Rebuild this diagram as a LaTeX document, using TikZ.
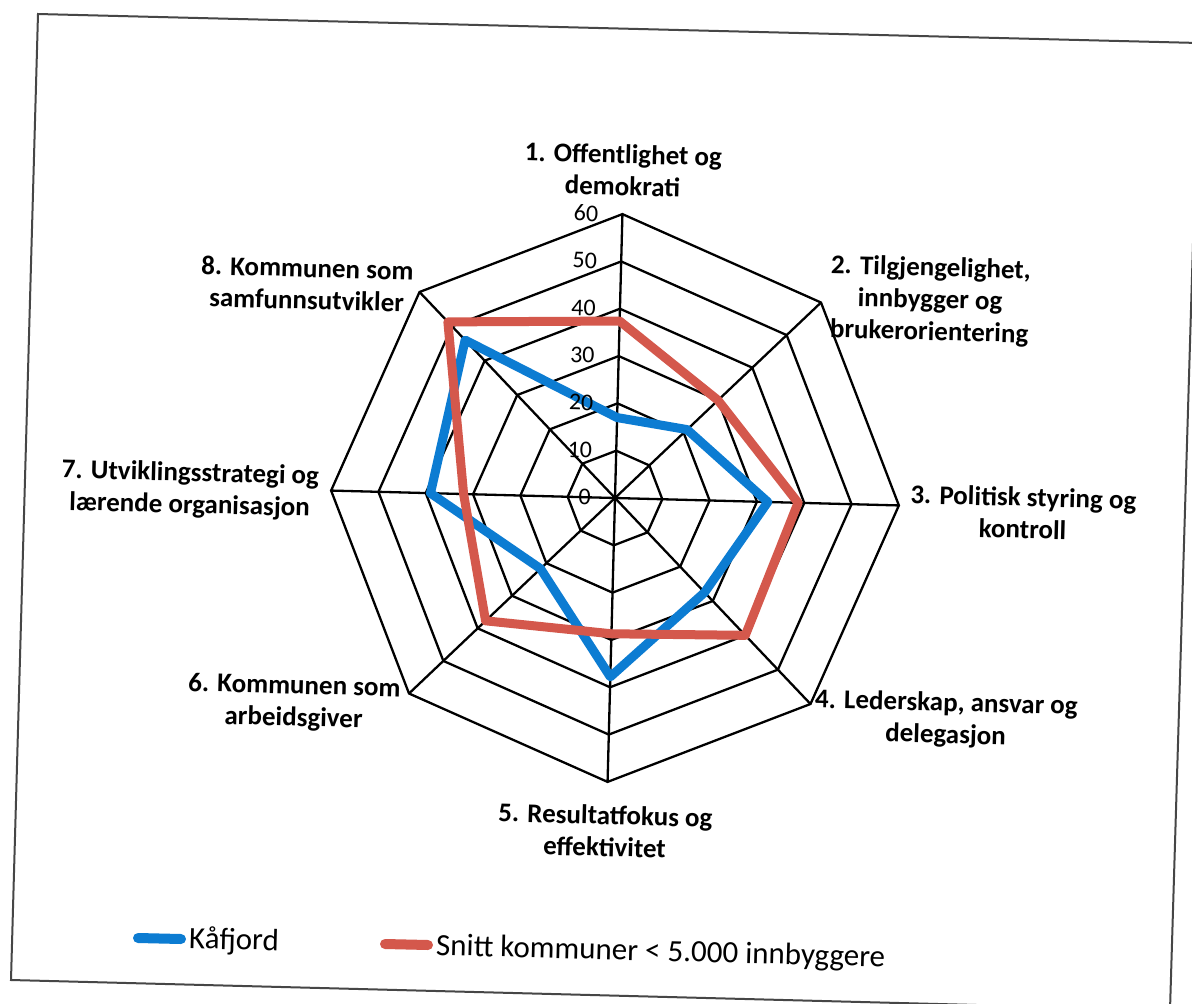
\documentclass[tikz,border=0pt]{standalone}
\usepackage{fontspec}
\setmainfont{Carlito}
\definecolor{kblue}{RGB}{12,124,210}
\definecolor{sred}{RGB}{212,88,76}
\definecolor{framegray}{RGB}{70,70,70}
\begin{document}
\begin{tikzpicture}[x=1pt,y=1pt,
  gridline/.style={black, line width=2.3pt},
  frameline/.style={framegray, line width=2pt},
  kaf/.style={draw=kblue, line width=9pt, line join=round},
  snitt/.style={draw=sred, line width=9pt, line join=round},
  axlabel/.style={font=\fontsize{27}{32}\selectfont\bfseries, align=center, rotate=-1.5, inner sep=0pt},
  tick/.style={font=\fontsize{24}{28}\selectfont, anchor=east, rotate=-1.5, inner sep=0pt},
  legtext/.style={font=\fontsize{31}{36}\selectfont, anchor=west, rotate=-1.5, inner sep=0pt},
  legline/.style={line width=10pt, line cap=round}]
\useasboundingbox (0,0) rectangle (1192,-1004);
\fill[white] (0,0) rectangle (1192,-1004);
% scanned page frame
\begin{scope}
  \clip (0,0) rectangle (1192,-1004);
  \coordinate (fTL) at (38,-14);
  \coordinate (fTR) at (1199,-43);
  \coordinate (fBR) at (1170,-1010);
  \coordinate (fBL) at (11,-980);
  \draw[frameline] (fTL) -- (fTR) -- (fBR) -- (fBL) -- cycle;
\end{scope}
% radar chart
\begin{scope}[shift={(615,-498)}, rotate=-1.5]
  \def\u{4.7333}
  \coordinate (c) at (0,0);
  \foreach \k in {0,...,7} {
    \coordinate (v\k) at ({90-45*\k}:{60*\u});
    \draw[gridline] (c) -- (v\k);
  }
  \foreach \r in {10,20,30,40,50,60} {
    \draw[gridline, line join=miter] (90:{\r*\u}) -- (45:{\r*\u}) -- (0:{\r*\u}) -- (-45:{\r*\u})
      -- (-90:{\r*\u}) -- (-135:{\r*\u}) -- (-180:{\r*\u}) -- (-225:{\r*\u}) -- cycle;
  }
  \foreach \v [count=\k from 0] in {17,21,32.3,27.5,37.8,21.7,39,46} {
    \coordinate (k\k) at ({90-45*\k}:{\v*\u});
  }
  \foreach \v [count=\k from 0] in {37.4,30,38.7,40,28.7,37.7,32,51.3} {
    \coordinate (s\k) at ({90-45*\k}:{\v*\u});
  }
  \draw[kaf] (k0) -- (k1) -- (k2) -- (k3) -- (k4) -- (k5) -- (k6) -- (k7) -- cycle;
  \draw[snitt] (s0) -- (s1) -- (s2) -- (s3) -- (s4) -- (s5) -- (s6) -- (s7) -- cycle;
  \foreach \r in {0,10,20,30,40,50,60} {
    \node[tick] (t\r) at (-24,{\r*\u}) {\r};
  }
\end{scope}
% axis labels
\node[axlabel] (a1) at (623,-170) {1. Offentlighet og\\demokrati};
\node[axlabel] (a2) at (930,-301) {2. Tilgjengelighet,\\innbygger og\\brukerorientering};
\node[axlabel] (a3) at (1023,-513) {3. Politisk styring og\\kontroll};
\node[axlabel] (a4) at (946,-720) {4. Lederskap, ansvar og\\delegasjon};
\node[axlabel] (a5) at (605,-831) {5. Resultatfokus og\\effektivitet};
\node[axlabel] (a6) at (294,-703) {6. Kommunen som\\arbeidsgiver};
\node[axlabel] (a7) at (190,-490) {7. Utviklingsstrategi og\\lærende organisasjon};
\node[axlabel] (a8) at (307,-284) {8. Kommunen som\\samfunnsutvikler};
% legend
\coordinate (lk1) at (138,-938);
\coordinate (lk2) at (181,-939);
\draw[legline, kblue] (lk1) -- (lk2);
\node[legtext] (lkt) at (189,-940) {Kåfjord};
\coordinate (ls1) at (385,-944);
\coordinate (ls2) at (428,-945);
\draw[legline, sred] (ls1) -- (ls2);
\node[legtext] (lst) at (436,-947) {Snitt kommuner < 5.000 innbyggere};
\end{tikzpicture}
\end{document}
